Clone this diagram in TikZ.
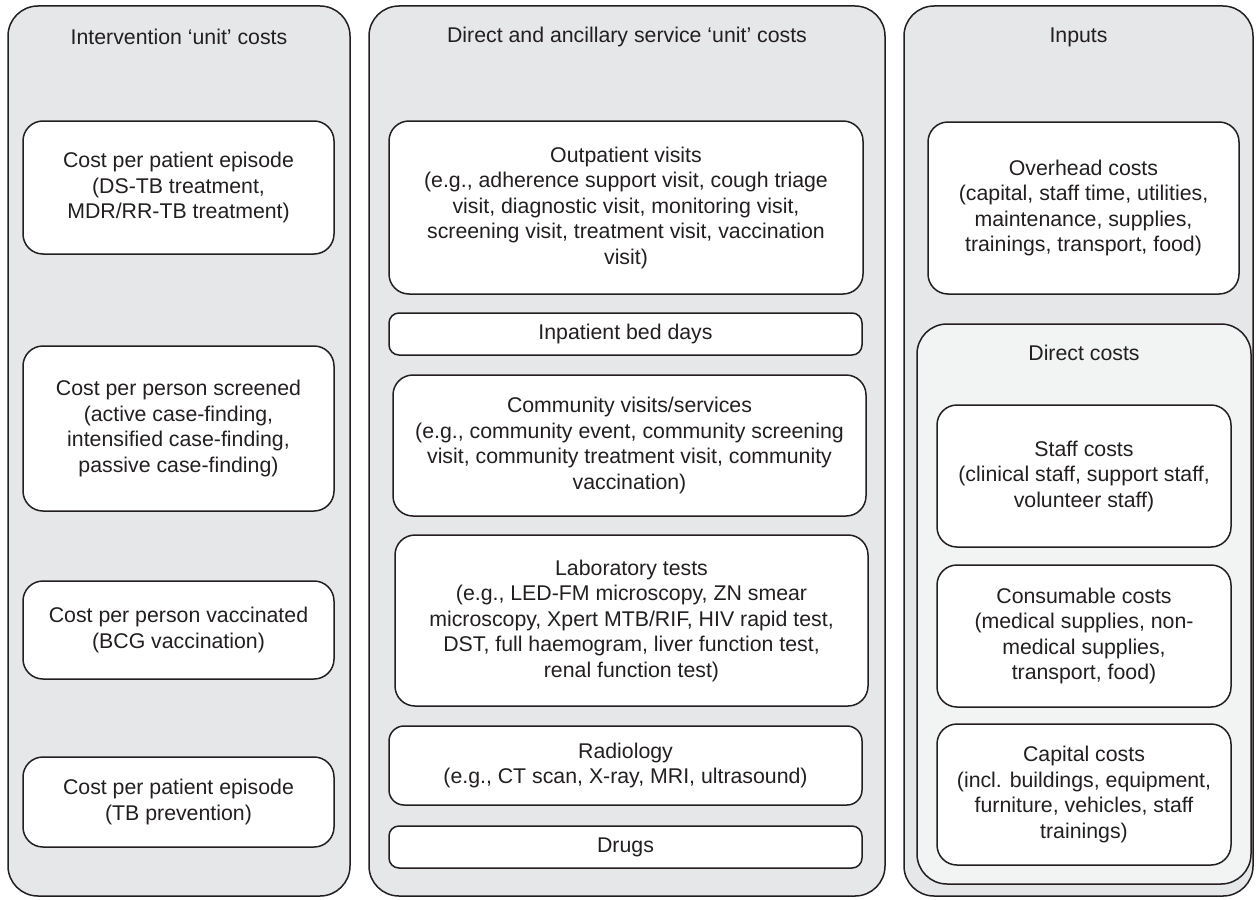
\documentclass[tikz,border=0pt]{standalone}
\usepackage{fontspec}
\setmainfont{Liberation Sans}
\definecolor{panelgray}{RGB}{230,231,232}
\definecolor{subgray}{RGB}{242,243,243}
\definecolor{ink}{RGB}{35,31,32}

\begin{document}
\begin{tikzpicture}[x=1pt,y=-1pt,
  every node/.style={font=\fontsize{21.3}{25.5}\selectfont,text=ink,align=center},
  panel/.style={draw=ink,line width=1.5pt,fill=panelgray,rounded corners=30pt,inner sep=0pt},
  slimbox/.style={draw=ink,line width=1.5pt,fill=white,rounded corners=10pt,inner sep=0pt},
  costbox/.style={slimbox,rounded corners=20pt,execute at begin node={\rule{0pt}{28pt}}}]
  \useasboundingbox (0,0) rectangle (1260,899);

  \node[panel,minimum width=342,minimum height=890] (interv) at (179,451) {};
  \node[panel,minimum width=516,minimum height=890] (service) at (627,451) {};
  \node[panel,minimum width=349,minimum height=890] (inputs) at (1078.5,451) {};

  \node (intervT) at (179,37) {Intervention `unit' costs};
  \node (serviceT) at (627,37) {Direct and ancillary service `unit' costs};
  \node (inputsT) at (1078.5,37) {Inputs};

  \node[costbox,minimum width=311,minimum height=133] (treat) at (178.5,187.5)
    {Cost per patient episode\\(DS-TB treatment,\\MDR/RR-TB treatment)};
  \node[costbox,minimum width=311,minimum height=165] (screen) at (178.5,428.5)
    {Cost per person screened\\(active case-finding,\\intensified case-finding,\\passive case-finding)};
  \node[costbox,minimum width=311,minimum height=98] (vacc) at (178.5,630)
    {Cost per person vaccinated\\(BCG vaccination)};
  \node[costbox,minimum width=311,minimum height=90] (prev) at (178.5,802)
    {Cost per patient episode\\(TB prevention)};

  \node[costbox,minimum width=474,minimum height=173] (outpat) at (626,207.5)
    {Outpatient visits\\(e.g., adherence support visit, cough triage\\visit, diagnostic visit, monitoring visit,\\screening visit, treatment visit, vaccination\\visit)};
  \node[slimbox,minimum width=473,minimum height=42] (inpat) at (625.5,334)
    {Inpatient bed days};
  \node[costbox,minimum width=473,minimum height=141] (commun) at (629.5,445.5)
    {Community visits/services\\(e.g., community event, community screening\\visit, community treatment visit, community\\vaccination)};
  \node[costbox,minimum width=473,minimum height=171] (lab) at (631.5,620.5)
    {Laboratory tests\\(e.g., LED-FM microscopy, ZN smear\\microscopy, Xpert MTB/RIF, HIV rapid test,\\DST, full haemogram, liver function test,\\renal function test)};
  \node[costbox,rounded corners=15pt,minimum width=473,minimum height=79] (radio) at (625.5,765.5)
    {Radiology\\(e.g., CT scan, X-ray, MRI, ultrasound)};
  \node[slimbox,minimum width=473,minimum height=42] (drugs) at (625.5,847)
    {Drugs};

  \node[costbox,minimum width=311,minimum height=172] (overhead) at (1083.5,208)
    {Overhead costs\\(capital, staff time, utilities,\\maintenance, supplies,\\trainings, transport, food)};
  \node[panel,fill=subgray,minimum width=334,minimum height=560] (direct) at (1084,604) {};
  \node (directT) at (1084,353) {Direct costs};
  \node[costbox,minimum width=294,minimum height=142] (staff) at (1084,476)
    {Staff costs\\(clinical staff, support staff,\\volunteer staff)};
  \node[costbox,minimum width=294,minimum height=142] (consum) at (1084,636)
    {Consumable costs\\(medical supplies, non-\\medical supplies,\\transport, food)};
  \node[costbox,minimum width=294,minimum height=141] (capital) at (1084,794.5)
    {Capital costs\\(incl. buildings, equipment,\\furniture, vehicles, staff\\trainings)};
\end{tikzpicture}
\end{document}
